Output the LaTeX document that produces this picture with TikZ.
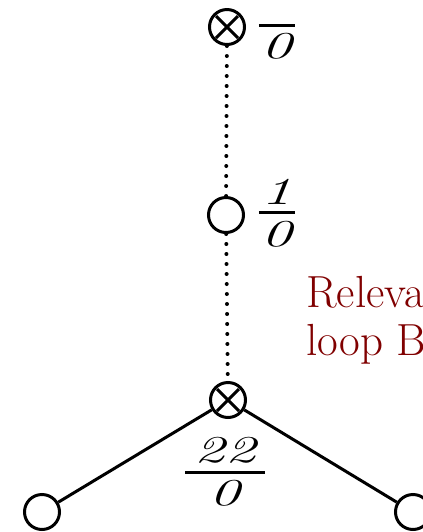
\documentclass[tikz,border=0pt]{standalone}
\usepackage{graphicx}
\definecolor{loopred}{RGB}{128,0,0}
\newcommand\hfrac[3]{\vbox{\hbox to #1{\hss\scalebox{1.6}[1]{\itshape #2}\hss}\kern3.5pt\hrule height1.5pt\kern3.5pt\hbox to #1{\hss\scalebox{1.6}[1]{\itshape #3}\hss}}}
\begin{document}
\begin{tikzpicture}[x=0.5pt,y=-0.5pt,
  vert/.style={circle,draw,line width=1.5pt,minimum size=17.5pt,inner sep=0pt},
  cross/.style={vert,path picture={
    \draw[line width=1.5pt] ([shift={(-5.5pt,-5.5pt)}]path picture bounding box.center) -- ([shift={(5.5pt,5.5pt)}]path picture bounding box.center)
      ([shift={(-5.5pt,5.5pt)}]path picture bounding box.center) -- ([shift={(5.5pt,-5.5pt)}]path picture bounding box.center);}},
  dots/.style={line width=2pt,line cap=round,dash pattern=on 0pt off 5pt},
  frac/.style={inner sep=0pt,font=\fontsize{19}{22}\selectfont}]
  \useasboundingbox (0,0) rectangle (423,532);
  \clip (0,0) rectangle (423,532);
  % vertices
  \node[cross] (a) at (227,27) {};
  \node[vert]  (b) at (226,215) {};
  \node[cross] (c) at (228,400) {};
  \node[vert]  (d) at (42,512) {};
  \node[vert]  (e) at (413,512) {};
  % edges
  \draw[dots] (a) -- (b);
  \draw[dots] (b) -- (c);
  \draw[line width=1.5pt] (c) -- (d);
  \draw[line width=1.5pt] (c) -- (e);
  % weights
  \node[frac] (wa) at (277,25) {\hfrac{18pt}{\phantom{0}}{0}};
  \node[frac] (wb) at (277,213) {\hfrac{18pt}{1}{0}};
  \node[frac] (wc) at (225,472) {\hfrac{40pt}{22}{0}};
  \node[loopred,anchor=north west,inner sep=0pt,align=left,font=\fontsize{22.5}{24}\selectfont] (note) at (306,276) {Releva\\loop B};
\end{tikzpicture}
\end{document}
